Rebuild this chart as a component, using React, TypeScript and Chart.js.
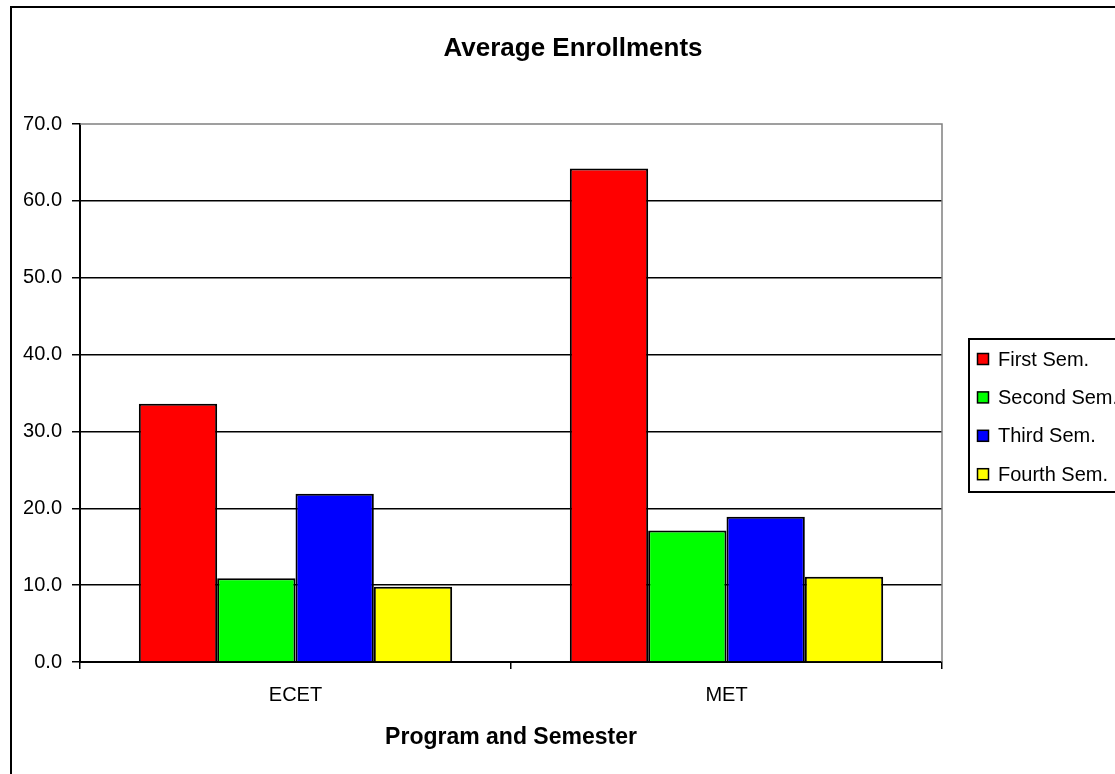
import React, { useEffect, useRef } from 'react';
import { Chart, registerables } from 'chart.js';

Chart.register(...registerables);

const chartTitle = 'Average Enrollments';
const xAxisTitle = 'Program and Semester';
const categories = ['ECET', 'MET'];
const seriesNames = ['First Sem.', 'Second Sem.', 'Third Sem.', 'Fourth Sem.'];
const firstSem = [33.6, 64.2];
const secondSem = [10.9, 17.1];
const thirdSem = [21.9, 18.9];
const fourthSem = [9.8, 11.1];
const seriesColors = ['#FF0000', '#00FF00', '#0000FF', '#FFFF00'];
const yMin = 0;
const yMax = 70;
const yStep = 10;

const FONT = "'Liberation Sans', Arial, Helvetica, sans-serif";

export default function App() {
  const ref = useRef<HTMLCanvasElement>(null);

  useEffect(() => {
    const canvas = ref.current!;
    const seriesValues = [firstSem, secondSem, thirdSem, fourthSem];

    const decorPlugin = {
      id: 'decor',
      beforeDatasetsDraw(chart: any) {
        const { ctx, chartArea } = chart;
        ctx.save();
        ctx.strokeStyle = '#808080';
        ctx.lineWidth = 1.5;
        ctx.beginPath();
        ctx.moveTo(chartArea.left, chartArea.top);
        ctx.lineTo(chartArea.right, chartArea.top);
        ctx.lineTo(chartArea.right, chartArea.bottom);
        ctx.stroke();
        ctx.restore();
      },
      afterDraw(chart: any) {
        const { ctx } = chart;
        ctx.save();
        // outer frame
        ctx.strokeStyle = '#000';
        ctx.lineWidth = 2;
        ctx.strokeRect(11, 7, 2000, 2000);
        // title
        ctx.fillStyle = '#000';
        ctx.font = `bold 26px ${FONT}`;
        ctx.textAlign = 'center';
        ctx.textBaseline = 'alphabetic';
        ctx.fillText(chartTitle, 573, 56);
        // legend
        ctx.lineWidth = 2;
        ctx.strokeRect(969, 339, 400, 153);
        chart.data.datasets.forEach((ds: any, i: number) => {
          const cy = 359 + i * 38.4;
          ctx.fillStyle = ds.backgroundColor;
          ctx.fillRect(977.5, cy - 5.5, 11, 11);
          ctx.lineWidth = 1.5;
          ctx.strokeStyle = '#000';
          ctx.strokeRect(977.5, cy - 5.5, 11, 11);
          ctx.fillStyle = '#000';
          ctx.font = `20px ${FONT}`;
          ctx.textAlign = 'left';
          ctx.textBaseline = 'middle';
          ctx.fillText(ds.label, 998, cy + 1);
        });
        ctx.restore();
      },
    };

    const chart = new Chart(canvas, {
      type: 'bar',
      data: {
        labels: categories,
        datasets: seriesNames.map((name, i) => ({
          label: name,
          data: seriesValues[i],
          backgroundColor: seriesColors[i],
          borderColor: '#000',
          borderWidth: 2,
        })),
      },
      options: {
        responsive: false,
        animation: false,
        layout: { padding: { left: 0, top: 124, right: 173, bottom: 0 } },
        plugins: {
          legend: { display: false },
          title: { display: false },
          tooltip: { enabled: false },
        },
        datasets: { bar: { categoryPercentage: 0.727, barPercentage: 1 } },
        scales: {
          x: {
            grid: {
              display: true,
              drawOnChartArea: false,
              drawTicks: true,
              tickLength: 7,
              color: '#000',
              lineWidth: 1.5,
            },
            border: { display: true, color: '#000', width: 2 },
            ticks: { color: '#000', font: { family: FONT, size: 20 }, padding: 14 },
            title: {
              display: true,
              text: xAxisTitle,
              color: '#000',
              font: { family: FONT, size: 23, weight: 'bold' },
              padding: { top: 0, bottom: 23 },
            },
            afterFit: (s: any) => {
              s.height = 112;
            },
          },
          y: {
            min: yMin,
            max: yMax,
            grid: {
              color: (c: any) => (c.tick && c.tick.value === yMax ? 'rgba(0,0,0,0)' : '#000'),
              tickColor: '#000',
              tickLength: 8,
              lineWidth: 1.5,
            },
            border: { display: true, color: '#000', width: 2 },
            ticks: {
              stepSize: yStep,
              color: '#000',
              font: { family: FONT, size: 20 },
              padding: 10,
              callback: (v: any) => Number(v).toFixed(1),
            },
            afterFit: (s: any) => {
              s.width = 80;
            },
          },
        },
      } as any,
      plugins: [decorPlugin],
    });

    return () => chart.destroy();
  }, []);

  return (
    <div
      style={{
        position: 'absolute',
        left: 0,
        top: 0,
        width: 1115,
        height: 774,
        overflow: 'hidden',
        background: '#fff',
      }}
    >
      <canvas ref={ref} width={1115} height={774} style={{ display: 'block', width: 1115, height: 774 }} />
    </div>
  );
}
